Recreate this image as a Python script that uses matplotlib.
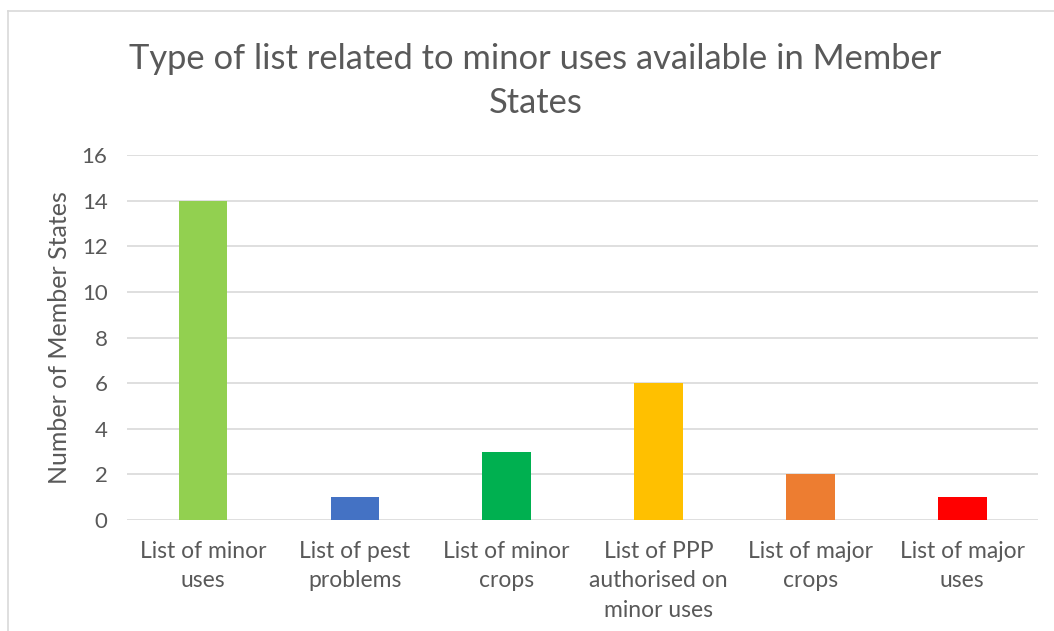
import matplotlib.pyplot as plt
from matplotlib.lines import Line2D

# data
categories = ["List of minor\nuses", "List of pest\nproblems", "List of minor\ncrops",
              "List of PPP\nauthorised on\nminor uses", "List of major\ncrops", "List of major\nuses"]
counts = [14, 1, 3, 6, 2, 1]
colors = ["#92D050", "#4472C4", "#00B050", "#FFC000", "#ED7D31", "#FF0000"]

plt.rcParams['font.family'] = ['Lato', 'DejaVu Sans']
text_col = "#595959"

fig = plt.figure(figsize=(10.54, 6.31), dpi=100)
ax = fig.add_axes([0.1205, 0.176, 0.8645, 0.578])

x = range(len(categories))
ax.bar(x, counts, width=0.32, color=colors, zorder=3)

ax.set_xlim(-0.5, len(categories) - 0.5)
ax.set_ylim(0, 16)
ax.set_yticks(range(0, 17, 2))
ax.set_xticks(list(x))
ax.set_xticklabels(categories, fontsize=16.5, color=text_col, linespacing=1.5)
ax.tick_params(axis='y', labelsize=16, colors=text_col, length=0, pad=14)
ax.tick_params(axis='x', length=0, pad=15)
ax.grid(axis='y', color="#D9D9D9", linewidth=1.2, zorder=0)
for s in ax.spines.values():
    s.set_visible(False)

ax.set_ylabel("Number of Member States", fontsize=18, color=text_col, labelpad=8)

fig.text(0.508, 0.907, "Type of list related to minor uses available in Member",
         ha='center', va='center', fontsize=24.8, color=text_col)
fig.text(0.508, 0.836, "States", ha='center', va='center', fontsize=24.8, color=text_col)

# chart frame (left and top edges visible)
fig.add_artist(Line2D([8 / 1054, 8 / 1054], [0, 1 - 11 / 631], color="#D9D9D9", lw=1.2,
                      transform=fig.transFigure))
fig.add_artist(Line2D([8 / 1054, 1], [1 - 11 / 631, 1 - 11 / 631], color="#D9D9D9", lw=1.2,
                      transform=fig.transFigure))

fig.savefig("out.png", dpi=100)
